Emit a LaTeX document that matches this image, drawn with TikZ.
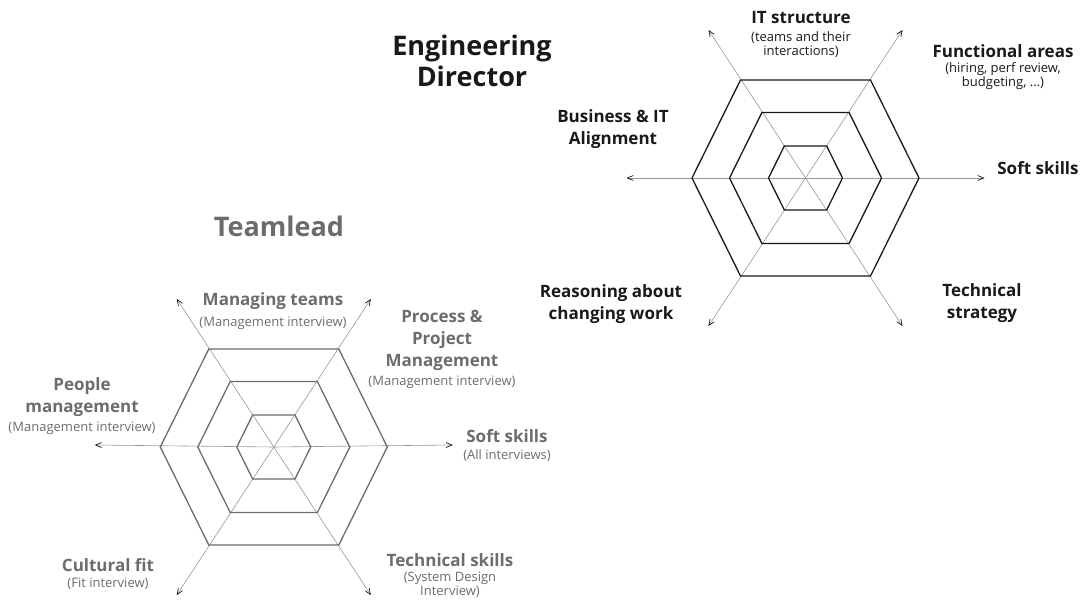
\documentclass[tikz,border=0pt]{standalone}
\usepackage{fontspec}
\setmainfont{Open Sans}
\usetikzlibrary{arrows.meta, positioning}
\definecolor{edink}{RGB}{25, 25, 25}
\definecolor{tlink}{RGB}{108, 108, 108}
\definecolor{spokegray}{RGB}{150, 150, 150}
\tikzstyle{charttitle} = [font=\fontsize{27}{31}\selectfont\bfseries, align=center, inner sep=0pt]
\tikzstyle{axislabel}  = [font=\fontsize{17}{22}\selectfont\bfseries, align=center, inner sep=0pt]
\tikzstyle{sublabel}   = [font=\fontsize{13}{14}\selectfont, align=center, inner sep=0pt]
\tikzstyle{web}        = [line width=1.3pt, line join=miter]
\tikzstyle{spoke}      = [draw=spokegray, line width=0.6pt,
                          -{Straight Barb[length=6pt, width=5pt, color=black]}]

\begin{document}
\begin{tikzpicture}[x=1pt, y=-1pt]
  \useasboundingbox (0,0) rectangle (1086,609);

  % Engineering Director chart
  \coordinate (ed)    at (805.5,178);
  \coordinate (ed-e)  at (984.5,178);
  \coordinate (ed-w)  at (626.5,178);
  \coordinate (ed-ne) at (902.5,30);
  \coordinate (ed-nw) at (708.5,30);
  \coordinate (ed-se) at (902.5,326);
  \coordinate (ed-sw) at (708.5,326);
  \foreach \tip in {e,w,ne,nw,se,sw}
    \draw [spoke] (ed) -- (ed-\tip);
  \begin{scope}[shift={(805.5,178)}, draw=edink]
    \foreach \r in {37,76,113.5}
      \draw [web] (\r,0) -- (0.573*\r,0.863*\r) -- (-0.573*\r,0.863*\r) -- (-\r,0)
                  -- (-0.573*\r,-0.863*\r) -- (0.573*\r,-0.863*\r) -- cycle;
  \end{scope}

  \node (edtitle) [charttitle, text=edink] at (472,61) {Engineering\\Director};
  \node (edit)    [axislabel, text=edink] at (801,18)  {IT structure};
  \node (editsub) [sublabel, text=edink, below=7pt of edit] {(teams and their\\interactions)};
  \node (edfunc)  [axislabel, text=edink] at (1003,51) {Functional areas};
  \node (edfuncsub) [sublabel, text=edink, below=5pt of edfunc] {(hiring, perf review,\\budgeting, ...)};
  \node (edbiz)   [axislabel, text=edink] at (613,129) {Business \& IT\\Alignment};
  \node (edsoft)  [axislabel, text=edink] at (1038,168) {Soft skills};
  \node (edreason) [axislabel, text=edink] at (611,304) {Reasoning about\\changing work};
  \node (edtech)  [axislabel, text=edink] at (982,303) {Technical\\strategy};

  % Teamlead chart
  \coordinate (tl)    at (273.8,447);
  \coordinate (tl-e)  at (452.8,445);
  \coordinate (tl-w)  at (94.8,445);
  \coordinate (tl-ne) at (370.8,299);
  \coordinate (tl-nw) at (176.8,299);
  \coordinate (tl-se) at (370.8,595);
  \coordinate (tl-sw) at (176.8,595);
  \foreach \tip in {e,w,ne,nw,se,sw}
    \draw [spoke] (tl) -- (tl-\tip);
  \begin{scope}[shift={(273.8,447)}, draw=tlink]
    \foreach \r in {37,76,113.5}
      \draw [web] (\r,0) -- (0.573*\r,0.863*\r) -- (-0.573*\r,0.863*\r) -- (-\r,0)
                  -- (-0.573*\r,-0.863*\r) -- (0.573*\r,-0.863*\r) -- cycle;
  \end{scope}

  \node (tltitle) [charttitle, text=tlink] at (279,226) {Teamlead};
  \node (tlmt)    [axislabel, text=tlink] at (273,301) {Managing teams};
  \node (tlmtsub) [sublabel, text=tlink, below=7pt of tlmt] {(Management interview)};
  \node (tlppm)   [axislabel, text=tlink] at (442,340) {Process \&\\Project\\Management};
  \node (tlppmsub) [sublabel, text=tlink, below=5pt of tlppm] {(Management interview)};
  \node (tlpm)    [axislabel, text=tlink] at (82,397) {People\\management};
  \node (tlpmsub) [sublabel, text=tlink, below=5pt of tlpm] {(Management interview)};
  \node (tlsoft)  [axislabel, text=tlink] at (507,436) {Soft skills};
  \node (tlsoftsub) [sublabel, text=tlink, below=7pt of tlsoft] {(All interviews)};
  \node (tlcf)    [axislabel, text=tlink] at (108,565) {Cultural fit};
  \node (tlcfsub) [sublabel, text=tlink, below=6pt of tlcf] {(Fit interview)};
  \node (tlts)    [axislabel, text=tlink] at (450,560) {Technical skills};
  \node (tltssub) [sublabel, text=tlink, below=5pt of tlts] {(System Design\\Interview)};
\end{tikzpicture}
\end{document}
